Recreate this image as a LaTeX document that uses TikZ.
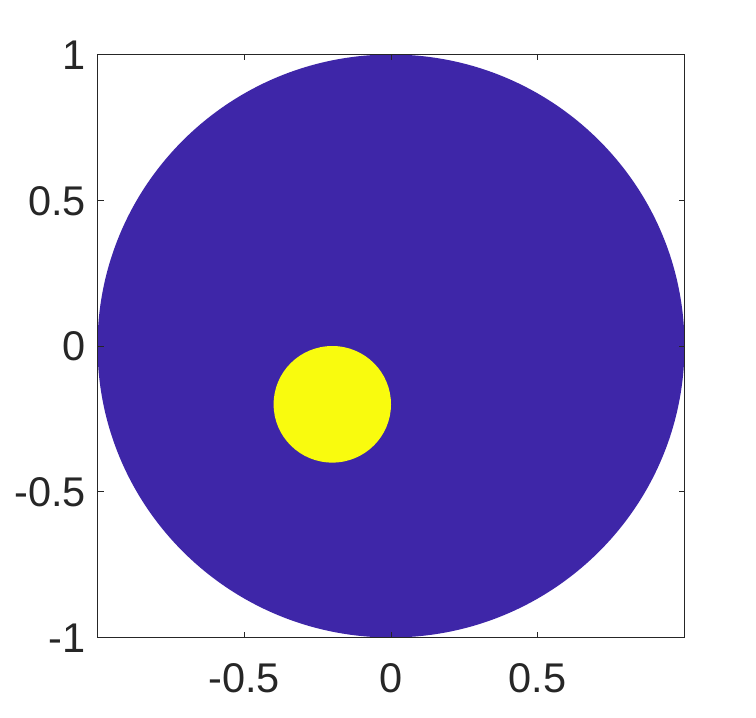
\documentclass[tikz,border=0pt]{standalone}
\usepackage{fontspec}
\setmainfont{Liberation Sans}
\definecolor{parblue}{HTML}{3E26A8}
\definecolor{paryellow}{HTML}{F9FB0E}
\definecolor{axgray}{HTML}{262626}
\begin{document}
\begin{tikzpicture}[x=1bp,y=-1bp,
  axline/.style={draw=axgray,line width=1bp},
  ticklab/.style={text=axgray,font=\fontsize{41.5bp}{46bp}\selectfont,inner sep=0pt}]
\useasboundingbox (0,0) rectangle (756,718);
\fill[white] (0,0) rectangle (756,718);
% data
\fill[parblue] (391,346) ellipse [x radius=293.5, y radius=291.5];
\fill[paryellow] (332.3,404.3) ellipse [x radius=58.7, y radius=58.3];
% axes box
\draw[axline] (97.5,54.5) rectangle (684.5,637.5);
% x ticks
\foreach \xx in {244.25,391,537.75}{
  \draw[axline] (\xx,637.5) -- (\xx,631.5);
  \draw[axline] (\xx,54.5) -- (\xx,60.5);
}
% y ticks
\foreach \yy in {54.5,200.25,346,491.75,637.5}{
  \draw[axline] (97.5,\yy) -- (103.5,\yy);
  \draw[axline] (684.5,\yy) -- (678.5,\yy);
}
% x labels
\node[ticklab] (xm) at (244.25,678) {-0.5};
\node[ticklab] (x0) at (391,678) {0};
\node[ticklab] (xp) at (537.75,678) {0.5};
% y labels
\node[ticklab,anchor=east] (y1) at (86,55.5) {1};
\node[ticklab,anchor=east] (y2) at (86,201) {0.5};
\node[ticklab,anchor=east] (y3) at (86,346.5) {0};
\node[ticklab,anchor=east] (y4) at (86,492.5) {-0.5};
\node[ticklab,anchor=east] (y5) at (86,638.5) {-1};
\end{tikzpicture}
\end{document}
